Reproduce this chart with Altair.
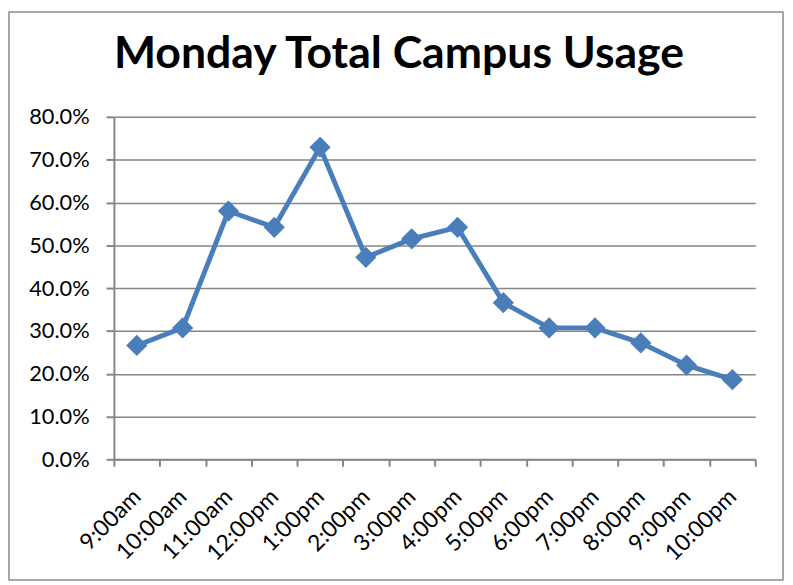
import altair as alt
import pandas as pd

times = ["9:00am", "10:00am", "11:00am", "12:00pm", "1:00pm", "2:00pm", "3:00pm",
         "4:00pm", "5:00pm", "6:00pm", "7:00pm", "8:00pm", "9:00pm", "10:00pm"]
usage = [0.266, 0.307, 0.580, 0.542, 0.729, 0.472, 0.515,
         0.542, 0.366, 0.307, 0.307, 0.272, 0.220, 0.186]
y_ticks = [0.0, 0.1, 0.2, 0.3, 0.4, 0.5, 0.6, 0.7, 0.8]

df = pd.DataFrame({"time": times, "usage": usage})

GRAY = "#868686"
BLUE = "#4A7EBB"
FONT = "Lato"

x_enc = alt.X(
    "time:N",
    sort=times,
    bandPosition=0.5,
    scale=alt.Scale(type="band", paddingInner=0, paddingOuter=0),
    axis=alt.Axis(
        title=None,
        tickBand="extent",
        labelAngle=315,
        labelAlign="right",
        labelBaseline="middle",
        labelFontSize=23,
        labelFont=FONT,
        labelColor="black",
        labelPadding=27,
        labelOffset=0,
        tickSize=7,
        tickColor=GRAY,
        tickWidth=2,
        domainColor=GRAY,
        domainWidth=2,
        grid=False,
    ),
)
y_enc = alt.Y(
    "usage:Q",
    scale=alt.Scale(domain=[0, 0.8], nice=False),
    axis=alt.Axis(
        title=None,
        values=y_ticks,
        format=".1%",
        labelFontSize=22,
        labelFont=FONT,
        labelColor="black",
        labelPadding=17,
        tickSize=8,
        tickColor=GRAY,
        tickWidth=2,
        domainColor=GRAY,
        domainWidth=2,
        grid=True,
        gridColor=GRAY,
        gridWidth=1.5,
    ),
)

line = alt.Chart(df).mark_line(color=BLUE, strokeWidth=5).encode(x=x_enc, y=y_enc)
points = alt.Chart(df).mark_point(
    shape="diamond", filled=True, color=BLUE, size=460, opacity=1
).encode(x=x_enc, y=y_enc)

border = alt.Chart(pd.DataFrame({"a": [0]})).mark_rect(
    fill=None, stroke="#8a8a8a", strokeWidth=1.5
).encode(
    x=alt.value(-106),
    x2=alt.value(676),
    y=alt.value(-106),
    y2=alt.value(468),
)

chart = alt.layer(border, line, points).properties(
    width=648,
    height=346,
    autosize=alt.AutoSizeParams(type="none"),
    padding={"left": 107, "top": 107, "right": 30, "bottom": 124},
    title=alt.Title(
        "Monday Total Campus Usage",
        font=FONT,
        fontSize=45,
        fontWeight="bold",
        color="black",
        anchor="middle",
        frame="group",
        dx=-36,
        offset=-66,
    ),
).configure_view(stroke=None)

chart.save("out.html", embed_options={"renderer": "svg", "actions": False})
